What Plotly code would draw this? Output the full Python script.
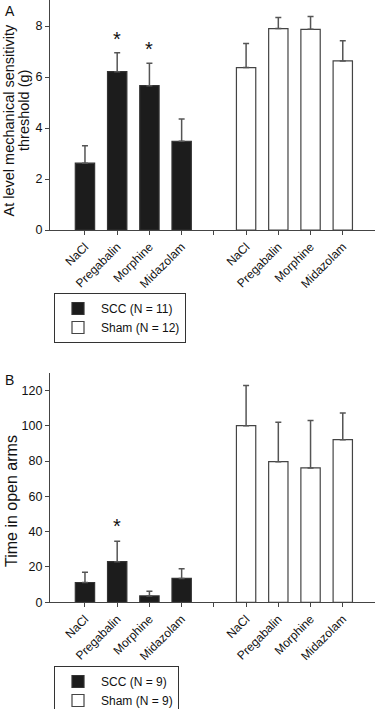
import plotly.graph_objects as go

# ---- data ----
drugs = ["NaCl", "Pregabalin", "Morphine", "Midazolam"]

a_scc_mean = [2.62, 6.21, 5.66, 3.48]
a_scc_err = [0.68, 0.74, 0.88, 0.87]
a_sham_mean = [6.37, 7.90, 7.87, 6.63]
a_sham_err = [0.94, 0.43, 0.50, 0.79]
a_sig = [False, True, True, False]

b_scc_mean = [11.2, 23.0, 3.6, 13.5]
b_scc_err = [5.8, 11.6, 2.7, 5.5]
b_sham_mean = [100.0, 79.6, 76.1, 92.1]
b_sham_err = [22.8, 22.3, 26.8, 15.1]
b_sig = [False, True, False, False]

a_legend = ["SCC (N = 11)", "Sham (N = 12)"]
b_legend = ["SCC (N = 9)", "Sham (N = 9)"]

a_ytitle = ["At level mechanical sensitivity", "threshold (g)"]
b_ytitle = "Time in open arms"

# ---- layout helpers ----
n = len(drugs)
x_scc = [i + 1 for i in range(n)]
x_sham = [i + n + 2 for i in range(n)]
tickvals = x_scc + [n + 1] + x_sham
ticktext = drugs + [""] + drugs

FONT = "Arial, Liberation Sans, sans-serif"
AX = "#444444"
W, H = 375, 709
ML = 50


def px_x(p):
    return (p - ML) / (W - ML)


def px_y(p):
    return 1 - p / H


fig = go.Figure()


def add_panel(scc_m, scc_e, sham_m, sham_e, names, xa, ya, leg):
    fig.add_trace(go.Bar(
        x=x_scc, y=scc_m, name=names[0], xaxis=xa, yaxis=ya, legend=leg,
        width=0.6, marker=dict(color="#1c1c1c", line=dict(color="#333333", width=1.2)),
        error_y=dict(type="data", array=scc_e, arrayminus=[0] * n, symmetric=False,
                     color="#555555", thickness=1.5, width=3),
    ))
    fig.add_trace(go.Bar(
        x=x_sham, y=sham_m, name=names[1], xaxis=xa, yaxis=ya, legend=leg,
        width=0.6, marker=dict(color="white", line=dict(color="#444444", width=1.2)),
        error_y=dict(type="data", array=sham_e, arrayminus=[0] * n, symmetric=False,
                     color="#555555", thickness=1.5, width=3),
    ))


add_panel(a_scc_mean, a_scc_err, a_sham_mean, a_sham_err, a_legend, "x", "y", "legend")
add_panel(b_scc_mean, b_scc_err, b_sham_mean, b_sham_err, b_legend, "x2", "y2", "legend2")

annotations = []
for i, s in enumerate(a_sig):
    if s:
        annotations.append(dict(x=x_scc[i], y=a_scc_mean[i] + a_scc_err[i], xref="x", yref="y",
                                text="*", showarrow=False, yanchor="middle", yshift=14,
                                font=dict(size=20, color="#111", family=FONT)))
for i, s in enumerate(b_sig):
    if s:
        annotations.append(dict(x=x_scc[i], y=b_scc_mean[i] + b_scc_err[i], xref="x2", yref="y2",
                                text="*", showarrow=False, yanchor="middle", yshift=15,
                                font=dict(size=20, color="#111", family=FONT)))

annotations.append(dict(x=px_x(3), y=px_y(1), xref="paper", yref="paper",
                        text="A", showarrow=False, xanchor="left", yanchor="top",
                        font=dict(size=14, color="#111", family=FONT)))
annotations.append(dict(x=px_x(3), y=px_y(370), xref="paper", yref="paper",
                        text="B", showarrow=False, xanchor="left", yanchor="top",
                        font=dict(size=14, color="#111", family=FONT)))

# y-axis titles
annotations.append(dict(x=px_x(8.5), y=px_y(120), xref="paper", yref="paper", text=a_ytitle[0],
                        textangle=-90, showarrow=False, xanchor="center", yanchor="middle",
                        font=dict(size=14.5, color="#111", family=FONT)))
annotations.append(dict(x=px_x(24), y=px_y(111), xref="paper", yref="paper", text=a_ytitle[1],
                        textangle=-90, showarrow=False, xanchor="center", yanchor="middle",
                        font=dict(size=14.5, color="#111", family=FONT)))
annotations.append(dict(x=px_x(11), y=px_y(501), xref="paper", yref="paper", text=b_ytitle,
                        textangle=-90, showarrow=False, xanchor="center", yanchor="middle",
                        font=dict(size=16, color="#111", family=FONT)))

xcommon = dict(range=[-0.085, 10.0], tickmode="array", tickvals=tickvals, ticktext=ticktext,
               tickangle=-45, ticks="outside", ticklen=4, tickwidth=1, tickcolor=AX,
               showline=True, linecolor=AX, linewidth=1.2, showgrid=False, zeroline=False,
               automargin=False, tickfont=dict(size=12, color="#111", family=FONT))
ycommon = dict(ticks="outside", ticklen=4, tickwidth=1, tickcolor=AX, showline=True,
               linecolor=AX, linewidth=1.2, showgrid=False, zeroline=False, automargin=False,
               tickfont=dict(size=12.5, color="#111", family=FONT))

fig.update_layout(
    width=W, height=H,
    margin=dict(l=ML, r=0, t=0, b=0, autoexpand=False),
    paper_bgcolor="white", plot_bgcolor="white",
    font=dict(family=FONT, color="#111"),
    barmode="overlay",
    xaxis=dict(**xcommon, domain=[0, 1], anchor="y"),
    yaxis=dict(**ycommon, domain=[1 - 230 / H, 1.0], anchor="x", range=[0, 9.02], dtick=2),
    xaxis2=dict(**xcommon, domain=[0, 1], anchor="y2"),
    yaxis2=dict(**ycommon, domain=[1 - 602.3 / H, 1 - 372.7 / H], anchor="x2", range=[0, 130],
                dtick=20),
    legend=dict(x=px_x(54), y=px_y(293), xanchor="left", yanchor="top", itemwidth=36,
                bordercolor="#333", borderwidth=1, bgcolor="white",
                font=dict(size=12, family=FONT, color="#111"), tracegroupgap=0),
    legend2=dict(x=px_x(54), y=px_y(666), xanchor="left", yanchor="top", itemwidth=36,
                 bordercolor="#333", borderwidth=1, bgcolor="white",
                 font=dict(size=12, family=FONT, color="#111"), tracegroupgap=0),
    annotations=annotations,
    showlegend=True,
)

fig.write_html("out.html", config={"displayModeBar": False},
               post_script="document.body.style.margin='0';")
